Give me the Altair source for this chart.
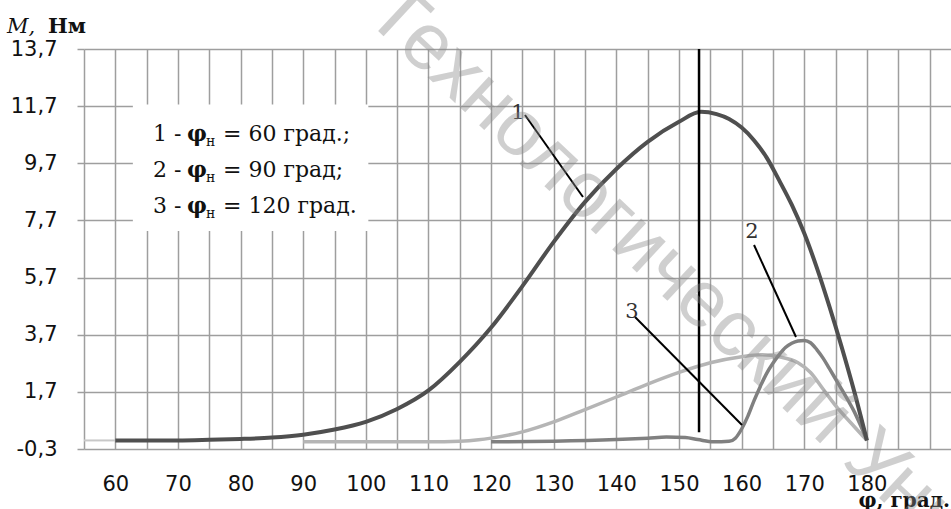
import altair as alt
import pandas as pd

# ---- data ----
# curve 1: phi_n = 60 deg
phi1 = [60, 65, 70, 75, 80, 85, 90, 95, 100, 105, 110, 115, 120, 125, 130, 135, 140, 145, 150,
        153.5, 156, 158, 160, 162, 164, 166, 168, 170, 172, 174, 176, 178, 180]
m1 = [0, 0, 0, 0.02, 0.05, 0.1, 0.2, 0.38, 0.65, 1.1, 1.75, 2.75, 3.95, 5.4, 6.95, 8.35, 9.5, 10.45, 11.15,
      11.5, 11.42, 11.25, 10.95, 10.5, 9.9, 9.1, 8.25, 7.25, 6.05, 4.7, 3.25, 1.7, 0]
# curve 2: phi_n = 90 deg (smooth, light)
phi2 = [90, 100, 110, 115, 118, 120, 125, 130, 135, 140, 145, 150, 155, 160, 163, 166, 169, 171, 173,
        175, 177.5, 180]
m2 = [-0.05, -0.05, -0.05, -0.03, 0.02, 0.08, 0.3, 0.65, 1.08, 1.52, 1.97, 2.38, 2.72, 2.93, 3.0, 2.93,
      2.72, 2.38, 1.8, 1.22, 0.6, 0]
# curve 3: phi_n = 120 deg (sharp peak)
phi3 = [120, 130, 140, 145, 148, 151, 153, 155.5, 158, 159, 160, 161, 162, 163, 164, 165, 166, 167, 168,
        169, 170, 171, 172, 173, 174, 175, 176, 177, 178, 179, 180]
m3 = [-0.05, -0.03, 0.03, 0.08, 0.12, 0.1, 0.03, -0.05, -0.03, 0.08, 0.4, 0.85, 1.4, 1.9, 2.35, 2.7, 3.0,
      3.25, 3.4, 3.48, 3.5, 3.42, 3.18, 2.88, 2.52, 2.15, 1.78, 1.4, 1.0, 0.52, 0]
# faint lead-in segment
phi0 = [55, 60]
m0 = [0, 0]

y_ticks = [-0.3, 1.7, 3.7, 5.7, 7.7, 9.7, 11.7, 13.7]
x_ticks = list(range(55, 195, 5))

legend_num = ["1 -", "2 -", "3 -"]
legend_rest = ["= 60 град.;", "= 90 град;", "= 120 град."]

GRID = "#9e9e9e"

xscale = alt.Scale(domain=[55, 193.43], nice=False, zero=False)
yscale = alt.Scale(domain=[-0.3, 13.7], nice=False, zero=False)
xaxis = alt.Axis(values=x_ticks, grid=True, gridColor=GRID, gridWidth=1.5, ticks=False, domain=False,
                 labelExpr="(datum.value % 10 == 0 && datum.value >= 60 && datum.value <= 180) ? datum.label : ''",
                 labelFont="DejaVu Sans", labelFontSize=21, labelColor="#111", labelPadding=24,
                 labelBaseline="top", labelFlush=False, labelOverlap=False, title=None)
yaxis = alt.Axis(values=y_ticks, grid=True, gridColor=GRID, gridWidth=1.5, ticks=True, tickSize=7,
                 tickColor=GRID, tickWidth=1.5, domain=False,
                 labelExpr="replace(replace(format(datum.value, '.1f'), '.', ','), '\u2212', '-')",
                 labelFont="DejaVu Sans", labelFontSize=21, labelColor="#111", labelPadding=20,
                 labelFlush=False, labelOverlap=False, title=None)


def XD(v):
    return alt.XDatum(v, type="quantitative", scale=xscale, axis=xaxis, title=None)


def YD(v):
    return alt.YDatum(v, type="quantitative", scale=yscale, axis=yaxis, title=None)


def curve(xs, ys, color, width):
    df = pd.DataFrame({"phi": xs, "M": ys})
    return alt.Chart(df).mark_line(color=color, strokeWidth=width, interpolate="monotone").encode(
        x=alt.X("phi:Q", scale=xscale, axis=xaxis, title=None),
        y=alt.Y("M:Q", scale=yscale, axis=yaxis, title=None),
    )


one = pd.DataFrame({"k": [0]})

box = alt.Chart(one).mark_rect(fill="white").encode(
    x=XD(62.8), x2=alt.datum(100.4), y=YD(11.76), y2=alt.datum(7.33))

c0 = curve(phi0, m0, "#c8c8c8", 2)
c2 = curve(phi2, m2, "#b5b5b5", 3.5)
c3 = curve(phi3, m3, "#808080", 3.5)
c1 = curve(phi1, m1, "#4f4f4f", 4)

vline = alt.Chart(one).mark_rule(color="black", strokeWidth=2.5).encode(
    x=XD(153.2), y=YD(0.29), y2=alt.datum(13.7))


def leader(xa, ya, xb, yb):
    return alt.Chart(one).mark_rule(color="black", strokeWidth=2).encode(
        x=XD(xa), y=YD(ya), x2=alt.datum(xb), y2=alt.datum(yb))


def num(label, xa, ya):
    return alt.Chart(one).mark_text(text=label, font="DejaVu Serif", fontSize=21, color="#333",
                                    align="center", baseline="middle").encode(x=XD(xa), y=YD(ya))


leaders = [leader(125.41, 11.39, 134.67, 8.52), leader(161.98, 6.84, 168.68, 3.62),
           leader(142.98, 4.32, 160.06, 0.54)]
nums = [num("1", 124.3, 11.46), num("2", 161.66, 7.29), num("3", 142.5, 4.49)]

# legend text (rich text built from segments)
FS = 22
legend_layers = []
base_x = 69
for i in range(3):
    by = 92 + 36 * i
    legend_layers.append(alt.Chart(one).mark_text(text=legend_num[i], font="DejaVu Serif", fontSize=FS,
                                                  color="#111", align="left", baseline="alphabetic")
                         .encode(x=alt.value(base_x), y=alt.value(by)))
    legend_layers.append(alt.Chart(one).mark_text(text="φ", font="DejaVu Serif", fontWeight="bold",
                                                  fontSize=FS, color="#111", align="left",
                                                  baseline="alphabetic")
                         .encode(x=alt.value(base_x + 34), y=alt.value(by)))
    legend_layers.append(alt.Chart(one).mark_text(text="н", font="DejaVu Serif", fontSize=14,
                                                  color="#111", align="left", baseline="alphabetic")
                         .encode(x=alt.value(base_x + 53), y=alt.value(by + 5)))
    legend_layers.append(alt.Chart(one).mark_text(text=legend_rest[i], font="DejaVu Serif", fontSize=FS,
                                                  color="#111", align="left", baseline="alphabetic")
                         .encode(x=alt.value(base_x + 70), y=alt.value(by)))

ytitle_m = alt.Chart(one).mark_text(text="M,", font="DejaVu Serif", fontStyle="italic", fontSize=21,
                                    color="#111", align="left", baseline="alphabetic").encode(
    x=alt.value(-77), y=alt.value(-16))
ytitle_u = alt.Chart(one).mark_text(text="Нм", font="DejaVu Serif", fontWeight="bold", fontSize=21,
                                    color="#111", align="left", baseline="alphabetic").encode(
    x=alt.value(-36), y=alt.value(-16))
xtitle = alt.Chart(one).mark_text(text="φ, град.", font="DejaVu Serif", fontWeight="bold", fontSize=20,
                                  color="#111", align="right", baseline="alphabetic").encode(
    x=alt.value(866), y=alt.value(458))

watermark = alt.Chart(one).mark_text(text="Технологический Университет", font="Liberation Sans",
                                     fontSize=80, color="#8a8a8a", opacity=0.4, angle=43,
                                     align="left", baseline="alphabetic").encode(
    x=alt.value(279), y=alt.value(-32))

chart = alt.layer(
    c0, c2, c3, c1, box, vline, *leaders, *nums, *legend_layers, ytitle_m, ytitle_u, xtitle, watermark
).properties(
    width=867, height=400,
    autosize=alt.AutoSizeParams(type="none"),
    padding={"left": 84, "top": 49, "right": 0, "bottom": 60},
    background="white",
).configure_view(stroke=None)

chart.save("out.html", embed_options={"renderer": "svg", "actions": False})
